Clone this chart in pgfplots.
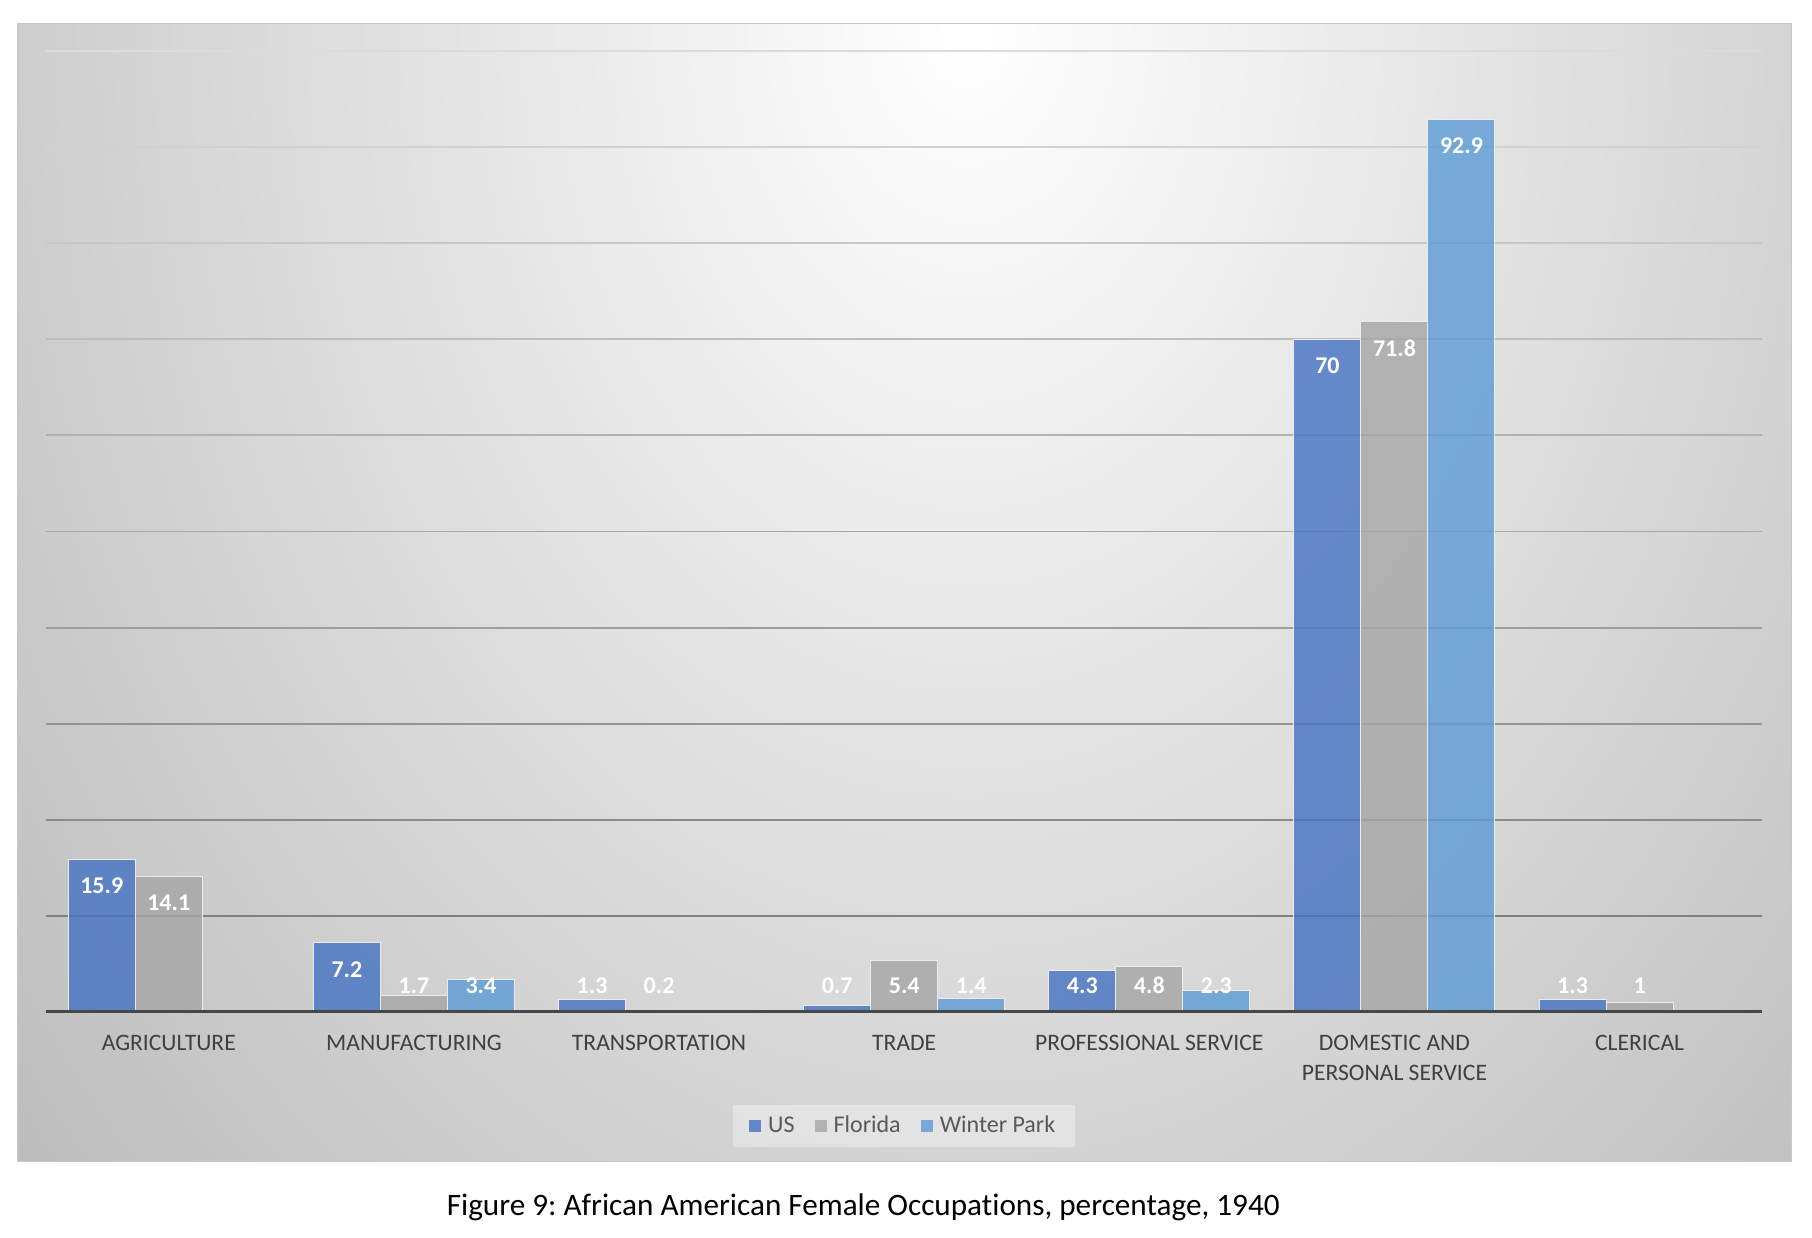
\documentclass[border=0pt]{standalone}
\usepackage{fontspec}
\setmainfont{Carlito}[Ligatures=NoCommon]
\usepackage{pgfplots}
\pgfplotsset{compat=1.18}
\definecolor{usblue}{HTML}{4472C4}
\definecolor{flgray}{HTML}{A5A5A5}
\definecolor{wpblue}{HTML}{5B9BD5}
\pgfplotsset{mylegend/.style={legend image code/.code={\fill[##1,draw=none] (0pt,-3pt) rectangle (6pt,3pt);}}}
\frenchspacing
\begin{document}
\begin{tikzpicture}
\path[use as bounding box] (0,0) rectangle (906pt,619pt);
\fill[white] (0,0) rectangle (906pt,619pt);
\begin{scope}
\clip (8.7pt,38.3pt) rectangle (895.6pt,607.4pt);
\shade[inner color=white, outer color=black!30] (484pt,607pt) ellipse (734pt and 996pt);
\end{scope}
\draw[black!22, line width=0.6pt] (8.7pt,38.3pt) rectangle (895.6pt,607.4pt);
\begin{axis}[
  at={(23.1pt,112.9pt)}, anchor=south west,
  scale only axis, width=858pt, height=480.7pt,
  xmin=-0.5, xmax=6.5, ymin=0, ymax=100,
  ybar=0pt, bar width=33.5pt,
  axis line style={draw=none},
  ytick=\empty, xtick={0,...,6},
  xticklabels={AGRICULTURE, MANUFACTURING, TRANSPORTATION, TRADE, PROFESSIONAL SERVICE, {DOMESTIC AND\\PERSONAL SERVICE}, CLERICAL},
  major tick length=0pt,
  xticklabel style={align=center, font=\fontsize{11.8}{15}\selectfont, text=black!75, anchor=north, yshift=-8pt},
  /pgf/number format/assume math mode=true,
  nodes near coords,
  visualization depends on={rawy \as \rawy},
  every node near coord/.append style={font=\bfseries\fontsize{12}{12}\selectfont, text=white, text opacity=1, anchor=center, yshift={(max(\rawy-2.77,2.77)-\rawy)*4.807}},
  legend style={at={(0.5,-0.1185)}, anchor=center, legend columns=3, fill=white, fill opacity=0.35, text opacity=1, draw=none, font=\fontsize{12}{12}\selectfont, text=black!65, /tikz/every even column/.append style={column sep=8pt}, /tikz/every odd column/.append style={column sep=1.5pt}, inner xsep=8pt, inner ysep=3.5pt},
]
\pgfplotsinvokeforeach{1,...,10}{\draw[line width=0.9pt, black!\the\numexpr 54-4*#1\relax] (axis cs:-0.5,#10) -- (axis cs:6.5,#10);}
\addplot[fill=usblue, fill opacity=0.8, draw=white!85!gray, line width=0.5pt, mylegend] coordinates {(0,15.9) (1,7.2) (2,1.3) (3,0.7) (4,4.3) (5,70) (6,1.3)};
\addplot[fill=flgray, fill opacity=0.8, draw=white!85!gray, line width=0.5pt, mylegend] coordinates {(0,14.1) (1,1.7) (2,0.2) (3,5.4) (4,4.8) (5,71.8) (6,1)};
\addplot[fill=wpblue, fill opacity=0.8, draw=white!85!gray, line width=0.5pt, mylegend] coordinates {(1,3.4) (3,1.4) (4,2.3) (5,92.9)};
\legend{US, Florida, Winter Park}
\draw[line width=1.7pt, black!72] (axis cs:-0.5,0) -- (axis cs:6.5,0);
\end{axis}
\node[font=\fontsize{15.6}{18}\selectfont] at (431.6pt,15.2pt) {Figure 9: African American Female Occupations, percentage, 1940};
\end{tikzpicture}
\end{document}
